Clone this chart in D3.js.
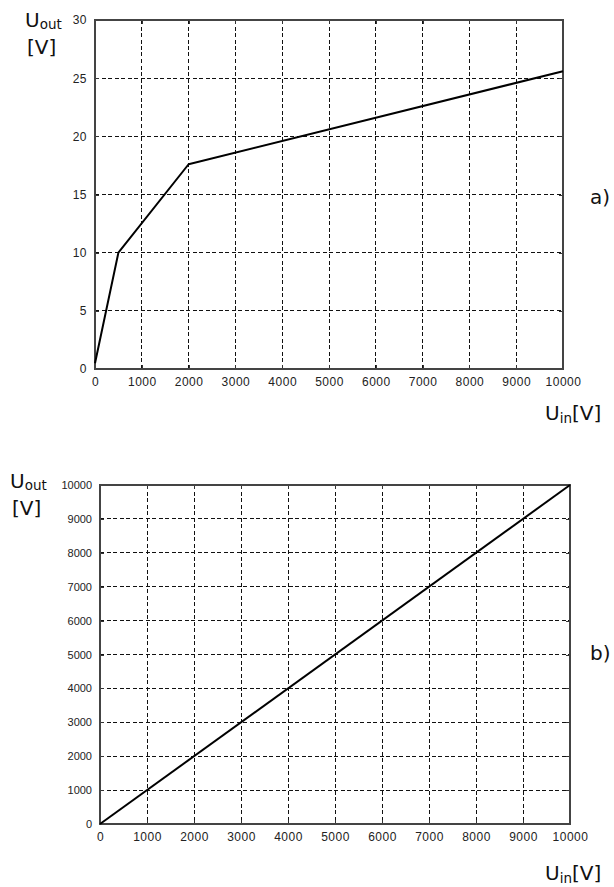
<!DOCTYPE html>
<html>
<head>
<meta charset="utf-8">
<script src="https://cdn.jsdelivr.net/npm/d3@7"></script>
<style>
  html, body { margin: 0; padding: 0; background: #fff; }
  svg { display: block; }
  .tick text { font-family: "Liberation Sans", Arial, sans-serif; fill: #222; }
  .ttl { font-family: "DejaVu Sans", Verdana, sans-serif; fill: #111; }
</style>
</head>
<body>
<script>
// ---- data ----
const uinA = [0, 500, 2000, 10000];
const uoutA = [0.5, 10, 17.6, 25.6];
const xTicksA = [0, 1000, 2000, 3000, 4000, 5000, 6000, 7000, 8000, 9000, 10000];
const yTicksA = [0, 5, 10, 15, 20, 25, 30];

const uinB = [0, 10000];
const uoutB = [0, 10000];
const xTicksB = [0, 1000, 2000, 3000, 4000, 5000, 6000, 7000, 8000, 9000, 10000];
const yTicksB = [0, 1000, 2000, 3000, 4000, 5000, 6000, 7000, 8000, 9000, 10000];

const W = 614, H = 887;
const svg = d3.select("body").append("svg").attr("width", W).attr("height", H);

function panel(o) {
  const x = d3.scaleLinear().domain([0, 10000]).range([o.left, o.right]);
  const y = d3.scaleLinear().domain(o.yDomain).range([o.bottom, o.top]);
  const g = svg.append("g");

  // grid
  g.selectAll(".gx").data(o.xTicks.slice(1, -1)).join("line")
    .attr("x1", d => x(d)).attr("x2", d => x(d))
    .attr("y1", o.top).attr("y2", o.bottom)
    .attr("stroke", "#111").attr("stroke-width", 1).attr("stroke-dasharray", "4,2.5")
    .attr("shape-rendering", "crispEdges");
  g.selectAll(".gy").data(o.yTicks.slice(1, -1)).join("line")
    .attr("y1", d => y(d)).attr("y2", d => y(d))
    .attr("x1", o.left).attr("x2", o.right)
    .attr("stroke", "#111").attr("stroke-width", 1).attr("stroke-dasharray", "4,2.5")
    .attr("shape-rendering", "crispEdges");

  // axes (inward ticks)
  const ax = g.append("g").attr("transform", `translate(0,${o.bottom})`)
    .call(d3.axisBottom(x).tickValues(o.xTicks).tickSize(-4).tickPadding(8).tickFormat(d3.format("d")));
  ax.selectAll("text").style("font-size", o.xFont + "px").attr("letter-spacing", "0.5");
  const axT = g.append("g").attr("transform", `translate(0,${o.top})`)
    .call(d3.axisTop(x).tickValues(o.xTicks).tickSize(-4).tickFormat(""));
  const ay = g.append("g").attr("transform", `translate(${o.left},0)`)
    .call(d3.axisLeft(y).tickValues(o.yTicks).tickSize(-4).tickPadding(8).tickFormat(d3.format("d")));
  ay.selectAll("text").style("font-size", o.yFont + "px").attr("letter-spacing", o.yLs);
  const ayR = g.append("g").attr("transform", `translate(${o.right},0)`)
    .call(d3.axisRight(y).tickValues(o.yTicks).tickSize(-4).tickFormat(""));
  [ax, axT, ay, ayR].forEach(a => {
    a.select(".domain").remove();
    a.selectAll("line").attr("stroke", "#333").attr("shape-rendering", "crispEdges");
  });

  // frame
  g.append("rect").attr("x", o.left).attr("y", o.top)
    .attr("width", o.right - o.left).attr("height", o.bottom - o.top)
    .attr("fill", "none").attr("stroke", "#444").attr("stroke-width", 1.2)
    .attr("shape-rendering", "crispEdges");

  // curve
  const pts = o.xs.map((v, i) => [v, o.ys[i]]);
  g.append("path").datum(pts)
    .attr("d", d3.line().x(d => x(d[0])).y(d => y(d[1])))
    .attr("fill", "none").attr("stroke", "#000").attr("stroke-width", 2)
    .attr("stroke-linejoin", "round");

  // titles
  const t1 = g.append("text").attr("class", "ttl").attr("x", o.uoutX).attr("y", o.uoutY).style("font-size", "20px");
  t1.append("tspan").text("U");
  t1.append("tspan").text("out").style("font-size", "13.5px").attr("dy", 2);
  g.append("text").attr("class", "ttl").attr("x", o.uoutX + 2).attr("y", o.uoutY + 27)
    .style("font-size", "20px").text("[V]");
  const t2 = g.append("text").attr("class", "ttl").attr("x", o.uinX).attr("y", o.uinY).style("font-size", "20px");
  t2.append("tspan").text("U");
  t2.append("tspan").text("in").style("font-size", "13.5px").attr("dy", 3);
  t2.append("tspan").text("[V]").attr("dy", -3);
  g.append("text").attr("class", "ttl").attr("x", o.labX).attr("y", o.labY)
    .style("font-size", "20px").text(o.lab);
}

panel({
  left: 95, right: 563, top: 20, bottom: 369,
  yDomain: [0, 30], xTicks: xTicksA, yTicks: yTicksA,
  xs: uinA, ys: uoutA, xFont: 12, yFont: 12, yLs: "0.5",
  uoutX: 25, uoutY: 27, uinX: 545, uinY: 420, lab: "a)", labX: 590, labY: 204
});
panel({
  left: 100, right: 570, top: 485, bottom: 824,
  yDomain: [0, 10000], xTicks: xTicksB, yTicks: yTicksB,
  xs: uinB, ys: uoutB, xFont: 12, yFont: 11, yLs: "0",
  uoutX: 10, uoutY: 488, uinX: 545, uinY: 880, lab: "b)", labX: 590, labY: 660
});
</script>
</body>
</html>
